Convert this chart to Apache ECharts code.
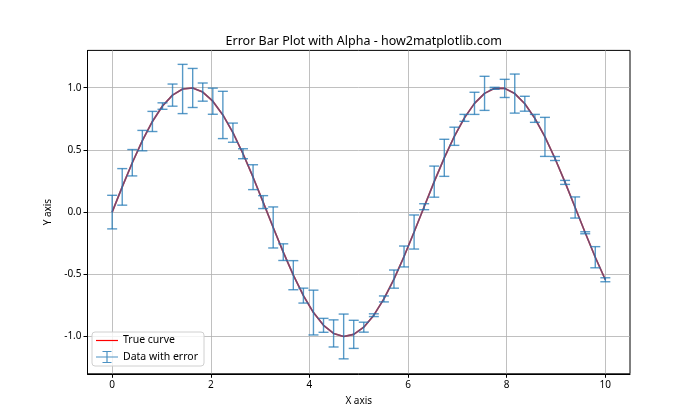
<!DOCTYPE html>
<html>
<head>
<meta charset="utf-8">
<script src="https://cdn.jsdelivr.net/npm/echarts@6/dist/echarts.min.js"></script>
<style>html,body{margin:0;padding:0;background:#fff}#c{width:700px;height:420px}</style>
</head>
<body>
<div id="c"></div>
<script>
const titleText = 'Error Bar Plot with Alpha - how2matplotlib.com';
const xLabel = 'X axis';
const yLabel = 'Y axis';
const xTicks = [0, 2, 4, 6, 8, 10];
const yTicks = [-1.0, -0.5, 0.0, 0.5, 1.0];
const xValues = [0, 0.2041, 0.4082, 0.6122, 0.8163, 1.0204, 1.2245, 1.4286, 1.6327, 1.8367,
  2.0408, 2.2449, 2.4490, 2.6531, 2.8571, 3.0612, 3.2653, 3.4694, 3.6735, 3.8776,
  4.0816, 4.2857, 4.4898, 4.6939, 4.8980, 5.1020, 5.3061, 5.5102, 5.7143, 5.9184,
  6.1224, 6.3265, 6.5306, 6.7347, 6.9388, 7.1429, 7.3469, 7.5510, 7.7551, 7.9592,
  8.1633, 8.3673, 8.5714, 8.7755, 8.9796, 9.1837, 9.3878, 9.5918, 9.7959, 10];
const yValues = [0, 0.2027, 0.3969, 0.5748, 0.7287, 0.8525, 0.9405, 0.9898, 0.9980, 0.9648,
  0.8915, 0.7810, 0.6385, 0.4692, 0.2807, 0.0803, -0.1234, -0.3220, -0.5072, -0.6714,
  -0.8076, -0.9103, -0.9754, -0.9998, -0.9829, -0.9251, -0.8288, -0.6981, -0.5387, -0.3568,
  -0.1601, 0.0433, 0.2449, 0.4364, 0.6096, 0.7576, 0.8744, 0.9547, 0.9951, 0.9944,
  0.9528, 0.8712, 0.7536, 0.6047, 0.4307, 0.2388, 0.0370, -0.1662, -0.3627, -0.5440];
const yErrors = [0.135, 0.147, 0.106, 0.082, 0.081, 0.026, 0.089, 0.198, 0.157, 0.073,
  0.105, 0.190, 0.077, 0.040, 0.100, 0.052, 0.165, 0.067, 0.117, 0.060,
  0.180, 0.056, 0.109, 0.180, 0.113, 0.040, 0.011, 0.024, 0.073, 0.084,
  0.137, 0.024, 0.125, 0.149, 0.073, 0.028, 0.089, 0.137, 0.008, 0.073,
  0.157, 0.060, 0.032, 0.157, 0.016, 0.016, 0.085, 0.008, 0.085, 0.016];

const FONT = 'Noto Sans';
const curveData = xValues.map((x, i) => [x, yValues[i]]);
const errData = xValues.map((x, i) => [x, yValues[i] - yErrors[i], yValues[i] + yErrors[i]]);

const chart = echarts.init(document.getElementById('c'), null, {renderer: 'canvas'});
chart.setOption({
  animation: false,
  backgroundColor: '#fff',
  textStyle: {fontFamily: FONT},
  title: {
    text: titleText, left: 358.75, top: 30, textAlign: 'center',
    textStyle: {fontFamily: FONT, fontSize: 12.5, fontWeight: 'normal', color: '#000'}
  },
  grid: {left: 87.5, right: 70, top: 50.4, bottom: 46.2, show: true,
    borderColor: '#000', borderWidth: 1, backgroundColor: 'transparent'},
  legend: {
    orient: 'vertical', left: 92, top: 332,
    backgroundColor: 'rgba(255,255,255,0.8)', borderColor: '#d0d0d0', borderWidth: 1, borderRadius: 3,
    padding: [3, 6, 3, 4], itemGap: 5, itemWidth: 22, itemHeight: 12,
    textStyle: {fontFamily: FONT, fontSize: 10.5, color: '#000'},
    data: [
      {name: 'True curve', icon: 'path://M0,5.4h22v1.2h-22z', itemStyle: {color: '#ff0000'}},
      {name: 'Data with error', icon: 'path://M0,5.4h22v1.2h-22z M10.4,0h1.2v12h-1.2z M6.5,0h9v1.1h-9z M6.5,10.9h9v1.1h-9z', itemStyle: {color: '#1f77b4', opacity: 0.8}}
    ]
  },
  xAxis: {
    type: 'value', min: -0.5, max: 10.5,
    name: xLabel, nameLocation: 'middle', nameGap: 22,
    nameTextStyle: {fontFamily: FONT, fontSize: 10, color: '#000'},
    axisLine: {show: true, onZero: false, lineStyle: {color: '#000', width: 1}},
    axisTick: {show: true, inside: false, length: 4, lineStyle: {color: '#000'}, customValues: xTicks},
    axisLabel: {fontFamily: FONT, fontSize: 10, color: '#000', margin: 6, customValues: xTicks, formatter: v => String(v)},
    splitLine: {show: true, lineStyle: {color: '#b0b0b0', width: 0.8}}
  },
  yAxis: {
    type: 'value', min: -1.3, max: 1.3,
    name: yLabel, nameLocation: 'middle', nameGap: 32, nameRotate: 90,
    nameTextStyle: {fontFamily: FONT, fontSize: 10, color: '#000'},
    axisLine: {show: true, onZero: false, lineStyle: {color: '#000', width: 1}},
    axisTick: {show: true, inside: false, length: 4, lineStyle: {color: '#000'}, customValues: yTicks},
    axisLabel: {fontFamily: FONT, fontSize: 10, color: '#000', margin: 6, customValues: yTicks, formatter: v => v.toFixed(1)},
    splitLine: {show: true, lineStyle: {color: '#b0b0b0', width: 0.8}}
  },
  series: [
    {
      name: 'True curve', type: 'line', data: curveData, showSymbol: false, symbol: 'none',
      lineStyle: {color: '#ff0000', width: 1.6}, itemStyle: {color: '#ff0000'}, z: 2, silent: true
    },
    {
      name: 'Data with error', type: 'custom', data: errData, z: 3, silent: true,
      itemStyle: {color: '#1f77b4'},
      encode: {x: 0, y: [1, 2]},
      renderItem: function (params, api) {
        const x = api.value(0);
        const lo = api.coord([x, api.value(1)]);
        const hi = api.coord([x, api.value(2)]);
        const cw = 5;
        const style = {stroke: '#1f77b4', lineWidth: 1.4, opacity: 0.75};
        return {
          type: 'group',
          children: [
            {type: 'line', shape: {x1: lo[0], y1: lo[1], x2: hi[0], y2: hi[1]}, style: style},
            {type: 'line', shape: {x1: lo[0] - cw, y1: lo[1], x2: lo[0] + cw, y2: lo[1]}, style: style},
            {type: 'line', shape: {x1: hi[0] - cw, y1: hi[1], x2: hi[0] + cw, y2: hi[1]}, style: style}
          ]
        };
      }
    },
    {
      name: 'Data with error line', type: 'line', data: curveData, showSymbol: false, symbol: 'none',
      lineStyle: {color: '#1f77b4', width: 1.6, opacity: 0.6}, z: 4, silent: true
    }
  ]
});
</script>
</body>
</html>
